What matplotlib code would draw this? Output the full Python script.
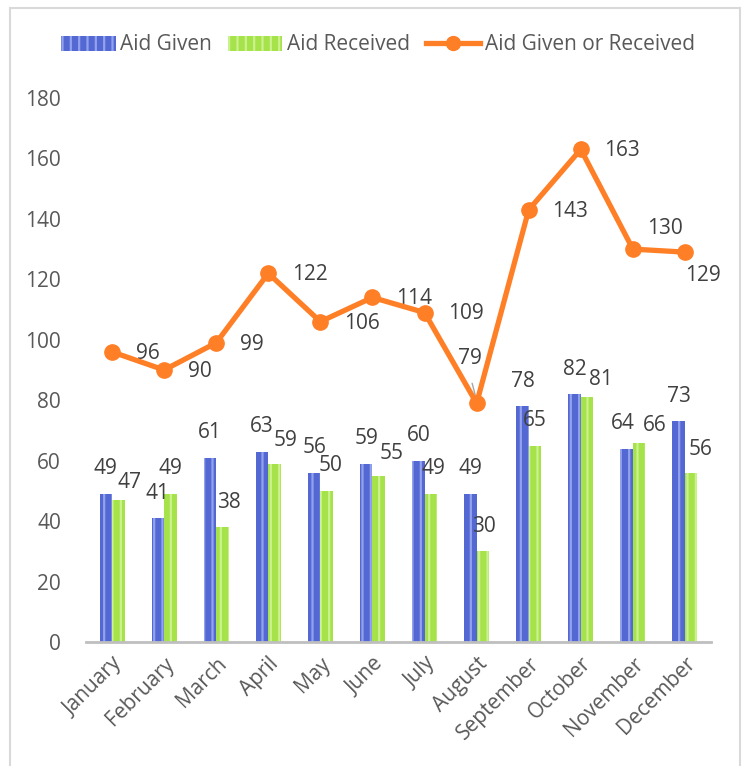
#!/usr/bin/env python3

import numpy as np
import matplotlib.pyplot as plt
from matplotlib.lines import Line2D
from matplotlib.patches import Rectangle

months = ["January", "February", "March", "April", "May", "June", "July",
          "August", "September", "October", "November", "December"]
aid_given = [49, 41, 61, 63, 56, 59, 60, 49, 78, 82, 64, 73]
aid_received = [47, 49, 38, 59, 50, 55, 49, 30, 65, 81, 66, 56]
aid_total = [96, 90, 99, 122, 106, 114, 109, 79, 143, 163, 130, 129]

BLUE = "#5468D4"
BLUE_STRIPE = "#93A2EC"
GREEN = "#A6E24A"
GREEN_STRIPE = "#CBF28E"
ORANGE = "#FF7F27"
TEXT = "#404040"

plt.rcParams['font.family'] = ['Open Sans', 'DejaVu Sans']
plt.rcParams['hatch.linewidth'] = 1.6

fig = plt.figure(figsize=(7.47, 7.66), dpi=100)
ax = fig.add_axes([86 / 747, 1 - 642 / 766, (711 - 86) / 747, (642 - 98) / 766])

x = np.arange(len(months))
w = 0.24
ax.bar(x - w / 2, aid_given, w, color=BLUE, edgecolor=BLUE_STRIPE,
       linewidth=0, hatch="||")
ax.bar(x + w / 2, aid_received, w, color=GREEN, edgecolor=GREEN_STRIPE,
       linewidth=0, hatch="||")
ax.plot(x, aid_total, color=ORANGE, lw=3.8, marker="o", ms=11,
        solid_joinstyle="round", zorder=4)

# bar labels (small nudges where Excel moved the labels)
blue_dx = [0, 0, 0, 0, 0, 0, 0, 0, 0, 0, -3, 0]
green_dx = [8, 0, 5, 8, 3, 9, 2, 1, 0, 10, 11, 7]
green_dy = [12.5, 18, 18, 17, 18, 16, 18, 18, 18, 12.5, 12.5, 17]
for i in x:
    ax.annotate(str(aid_given[i]), (i - w / 2, aid_given[i]),
                xytext=(blue_dx[i], 18), textcoords="offset points",
                ha="center", va="center", fontsize=15, color=TEXT)
    ax.annotate(str(aid_received[i]), (i + w / 2, aid_received[i]),
                xytext=(green_dx[i], green_dy[i]), textcoords="offset points",
                ha="center", va="center", fontsize=15, color=TEXT)

# line labels
for i in x:
    if months[i] == "August":
        ax.annotate(str(aid_total[i]), (i, aid_total[i]), xytext=(-5, 32),
                    textcoords="offset points", ha="center", va="center",
                    fontsize=15, color=TEXT)
        ax.annotate("", (i, aid_total[i] + 1), xytext=(i - 0.1, aid_total[i] + 7.5),
                    arrowprops=dict(arrowstyle="-", color="#A6A6A6", lw=1))
    elif months[i] == "November":
        ax.annotate(str(aid_total[i]), (i, aid_total[i]), xytext=(10, 15),
                    textcoords="offset points", ha="left", va="center",
                    fontsize=15, color=TEXT)
    elif months[i] == "December":
        ax.annotate(str(aid_total[i]), (i, aid_total[i]), xytext=(0, -17),
                    textcoords="offset points", ha="left", va="center",
                    fontsize=15, color=TEXT)
    else:
        ax.annotate(str(aid_total[i]), (i, aid_total[i]), xytext=(17, -1),
                    textcoords="offset points", ha="left", va="center",
                    fontsize=15, color=TEXT)

ax.set_xlim(-0.5, len(months) - 0.5)
ax.set_ylim(0, 180)
ax.set_yticks(range(0, 181, 20))
ax.set_xticks(x)
ax.set_xticklabels(months, rotation=45, ha="right", rotation_mode="anchor")
for lab in ax.get_xticklabels():
    lab.set_color("#595959")
    lab.set_fontsize(15)
for lab in ax.get_yticklabels():
    lab.set_color("#595959")
    lab.set_fontsize(15)
ax.tick_params(axis="both", length=0)
ax.tick_params(axis="y", pad=18)
ax.tick_params(axis="x", pad=8)
for s in ["top", "right", "left"]:
    ax.spines[s].set_visible(False)
ax.spines["bottom"].set_color("#BFBFBF")
ax.spines["bottom"].set_linewidth(2)

handles = [
    Rectangle((0, 0), 1, 1, facecolor=BLUE, edgecolor=BLUE_STRIPE, linewidth=0, hatch="||"),
    Rectangle((0, 0), 1, 1, facecolor=GREEN, edgecolor=GREEN_STRIPE, linewidth=0, hatch="||"),
    Line2D([], [], color=ORANGE, lw=3.8, marker="o", ms=10),
]
fig.legend(handles, ["Aid Given", "Aid Received", "Aid Given or Received"],
           loc="center", bbox_to_anchor=(378 / 747, 1 - 45 / 766), ncol=3,
           frameon=False, fontsize=15, handlelength=2.6, handletextpad=0.2,
           columnspacing=0.8, labelcolor="#595959")

# chart border
fig.add_artist(Rectangle((10 / 747, -0.01), (740 - 10) / 747, 1 - 8 / 766 + 0.01,
                         transform=fig.transFigure, fill=False,
                         edgecolor="#D9D9D9", lw=1.5))

fig.savefig("out.png", dpi=100)
